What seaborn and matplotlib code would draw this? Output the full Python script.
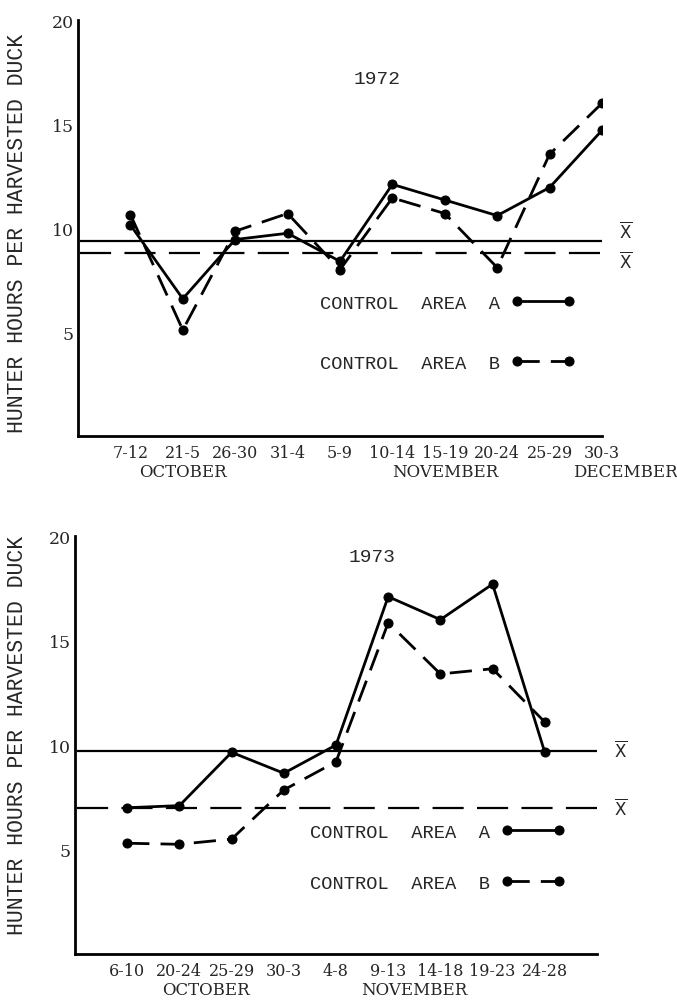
import pandas as pd
import seaborn as sns
import matplotlib.pyplot as plt

# 1972 season
periods_72 = ["7-12", "21-5", "26-30", "31-4", "5-9", "10-14", "15-19", "20-24", "25-29", "30-3"]
area_a_72 = [10.15, 6.6, 9.45, 9.75, 8.4, 12.1, 11.35, 10.6, 11.95, 14.7]
area_b_72 = [10.65, 5.1, 9.85, 10.7, 8.0, 11.45, 10.7, 8.1, 13.55, 16.0]
mean_a_72 = 9.4
mean_b_72 = 8.78
months_72 = [("OCTOBER", 2), ("NOVEMBER", 7), ("DECEMBER", 10.45)]

# 1973 season
periods_73 = ["6-10", "20-24", "25-29", "30-3", "4-8", "9-13", "14-18", "19-23", "24-28", ""]
area_a_73 = [7.0, 7.1, 9.65, 8.65, 10.0, 17.1, 16.0, 17.7, 9.65]
area_b_73 = [5.3, 5.25, 5.5, 7.85, 9.2, 15.85, 13.4, 13.65, 11.1]
mean_a_73 = 9.7
mean_b_73 = 7.0
months_73 = [("OCTOBER", 2.5), ("NOVEMBER", 6.5)]

sns.set_style("white")
plt.rcParams['font.family'] = ['DejaVu Serif']

serif = "DejaVu Serif"
mono = "Liberation Mono"

fig = plt.figure(figsize=(6.77, 10.04), dpi=100)
ax1 = fig.add_axes([0.1152, 0.5647, 0.774, 0.4143])
ax2 = fig.add_axes([0.1108, 0.0488, 0.771, 0.4163])


def draw(ax, periods, a, b, mean_a, mean_b, months, year, year_y,
         xbar_shift, leg_anchor, leg_spacing):
    df = pd.DataFrame({
        "pos": list(range(1, len(a) + 1)) * 2,
        "value": a + b,
        "area": ["A"] * len(a) + ["B"] * len(b),
    })
    sns.lineplot(data=df[df.area == "A"], x="pos", y="value", ax=ax,
                 color="black", lw=2, marker="o", markersize=6.5, mec="black",
                 label="CONTROL  AREA  A")
    sns.lineplot(data=df[df.area == "B"], x="pos", y="value", ax=ax,
                 color="black", lw=2, marker="o", markersize=6.5, mec="black",
                 linestyle=(0, (8, 4)), label="CONTROL  AREA  B")

    ax.hlines(mean_a, 0.03, 10, color="black", lw=1.6)
    ax.hlines(mean_b, 0.03, 10, color="black", lw=1.6, linestyles=(0, (14, 6)))
    for m, dy in zip((mean_a, mean_b), xbar_shift):
        ax.text(10.45, m + dy, r"$\overline{\mathrm{X}}$", ha="center", va="center",
                fontsize=12, family=serif)

    ax.set_xlim(0, 10)
    ax.set_ylim(0, 20)
    ax.set_xticks(range(1, 11))
    ax.set_xticklabels(periods, fontsize=11.5, family=serif)
    ax.set_yticks([5, 10, 15, 20])
    ax.set_yticklabels(["5", "10", "15", "20"], fontsize=12.5, family=serif)
    ax.tick_params(axis="y", direction="in", length=12, width=1.6, pad=3)
    ax.tick_params(axis="x", direction="in", length=10, width=1.6, pad=6)
    for s in ["top", "right"]:
        ax.spines[s].set_visible(False)
    for s in ["left", "bottom"]:
        ax.spines[s].set_linewidth(2)
        ax.spines[s].set_color("black")
    ax.set_xlabel("")
    ax.set_ylabel("")

    for name, x in months:
        ax.text(x, -0.085, name, transform=ax.get_xaxis_transform(),
                ha="center", va="center", fontsize=12, family=serif)

    ax.text(5.7, year_y, year, ha="center", va="center", fontsize=14, family=mono)

    ax.legend(loc="upper left", bbox_to_anchor=leg_anchor, frameon=False,
              markerfirst=False, numpoints=2, handlelength=3.4,
              handletextpad=0.6, borderpad=0, borderaxespad=0,
              labelspacing=leg_spacing, prop={"family": mono, "size": 13.5})


draw(ax1, periods_72, area_a_72, area_b_72, mean_a_72, mean_b_72, months_72,
     "1972", 17.2, (0.5, -0.35), (0.462, 0.34), 2.3)
draw(ax2, periods_73, area_a_73, area_b_73, mean_a_73, mean_b_73, months_73,
     "1973", 19.0, (0.1, 0.0), (0.45, 0.312), 1.8)

ylabel = "HUNTER HOURS PER HARVESTED DUCK"
fig.text(18 / 677, 1 - 233 / 1004, ylabel, rotation=90, ha="center", va="center",
         fontsize=15.5, family=mono)
fig.text(18 / 677, 1 - 735 / 1004, ylabel, rotation=90, ha="center", va="center",
         fontsize=15.5, family=mono)

fig.savefig("out.png", dpi=100, facecolor="white")
